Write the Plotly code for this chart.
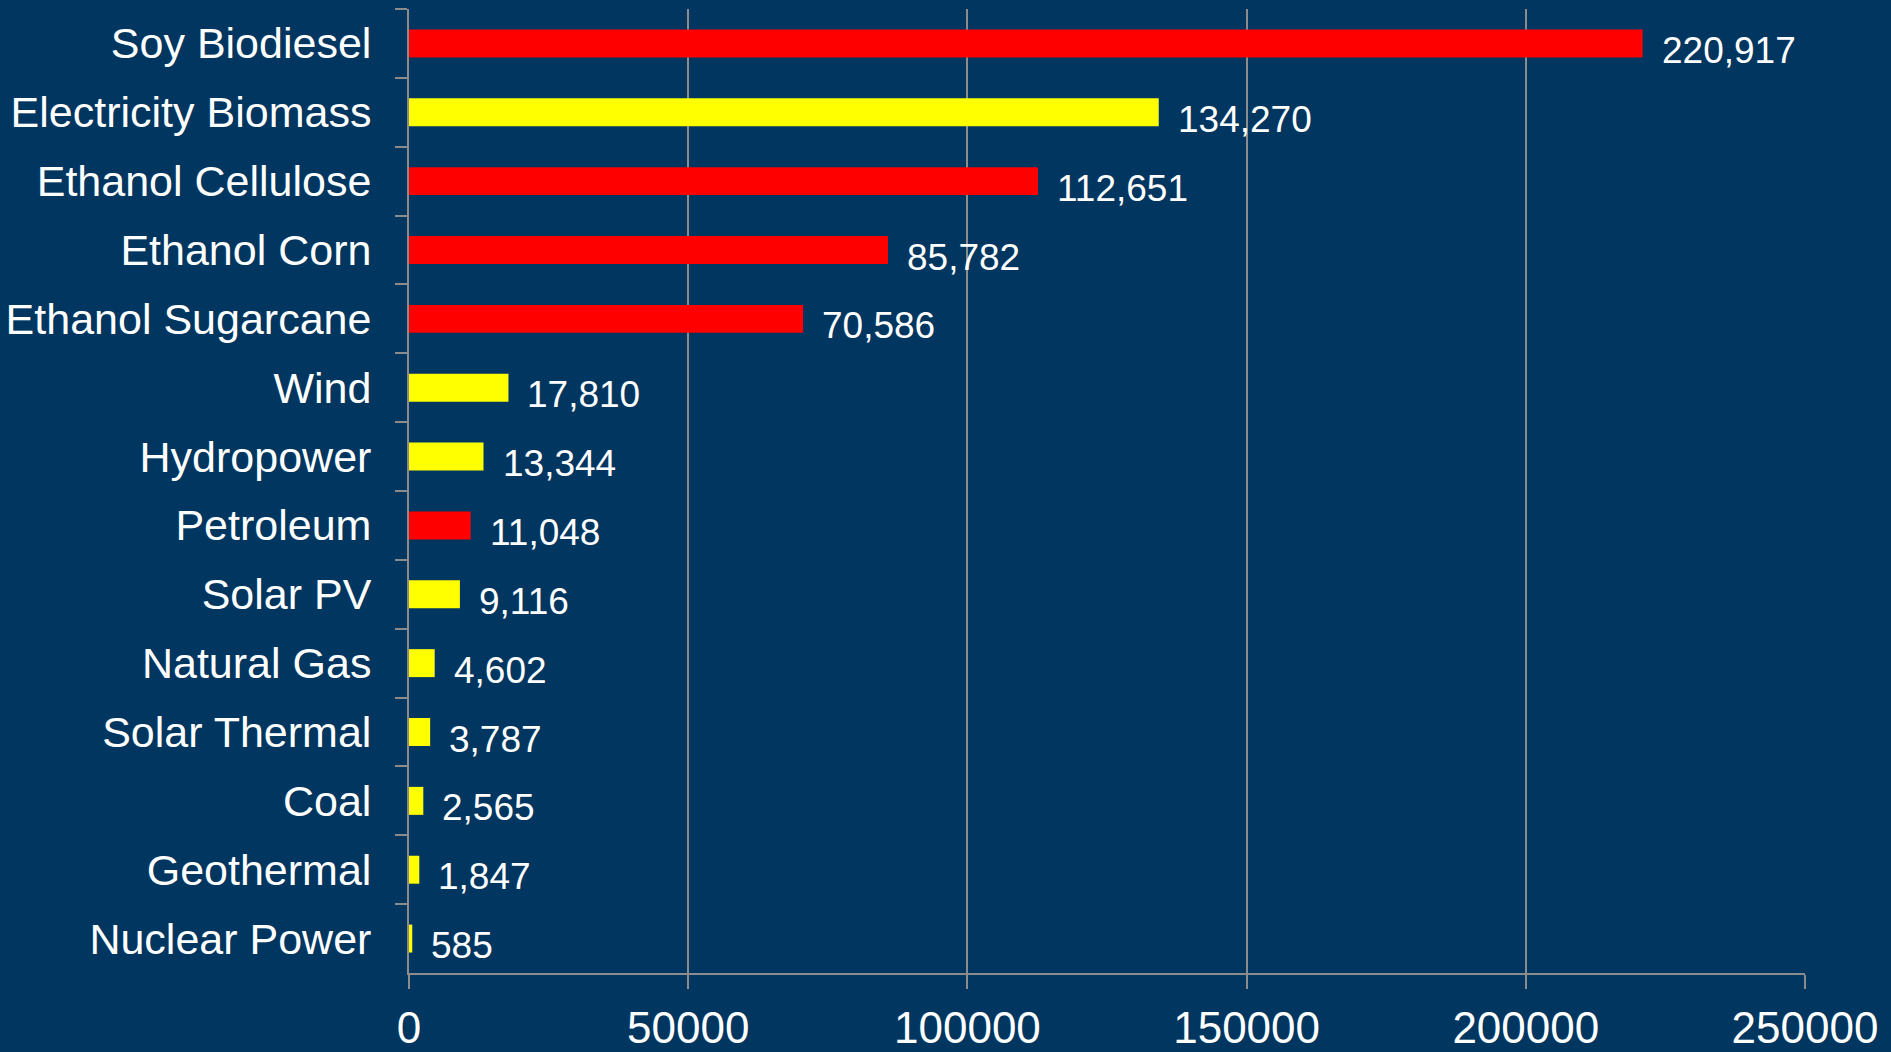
import plotly.graph_objects as go

categories = ["Soy Biodiesel", "Electricity Biomass", "Ethanol Cellulose", "Ethanol Corn",
              "Ethanol Sugarcane", "Wind", "Hydropower", "Petroleum", "Solar PV",
              "Natural Gas", "Solar Thermal", "Coal", "Geothermal", "Nuclear Power"]
values = [220917, 134270, 112651, 85782, 70586, 17810, 13344, 11048, 9116,
          4602, 3787, 2565, 1847, 585]
groups = ["fuel", "electricity", "fuel", "fuel", "fuel", "electricity", "electricity",
          "fuel", "electricity", "electricity", "electricity", "electricity",
          "electricity", "electricity"]
x_ticks = [0, 50000, 100000, 150000, 200000, 250000]

group_colors = {"fuel": "#FF0000", "electricity": "#FFFF00"}
bg = "#00365F"
grid = "#8C8C8C"
font_family = "Liberation Sans, Arial, sans-serif"

fig = go.Figure()
fig.add_trace(go.Bar(
    y=categories, x=values, orientation="h",
    marker=dict(color=[group_colors[g] for g in groups], line=dict(width=0)),
    hoverinfo="x+y", showlegend=False,
))

for c, v in zip(categories, values):
    fig.add_annotation(x=v, y=c, text=f"{v:,}", showarrow=False, xanchor="left",
                       yanchor="middle", xshift=17, yshift=-7,
                       font=dict(family=font_family, size=37, color="white"))

fig.update_layout(
    width=1891, height=1052,
    margin=dict(l=409, r=86, t=9, b=79, autoexpand=False),
    paper_bgcolor=bg, plot_bgcolor=bg,
    bargap=0.594,
    font=dict(family=font_family, color="white"),
)
fig.update_xaxes(
    range=[0, 250000], tickvals=x_ticks, tickformat="d",
    showgrid=True, gridcolor=grid, gridwidth=2,
    showline=True, linecolor=grid, linewidth=2,
    ticks="outside", ticklen=14, tickcolor=grid, tickwidth=2,
    tickfont=dict(family=font_family, size=44, color="white"),
    zeroline=False, automargin=False, ticklabelstandoff=1,
)
fig.update_yaxes(
    categoryorder="array", categoryarray=categories, autorange="reversed",
    showline=True, linecolor=grid, linewidth=2,
    ticks="outside", ticklen=12, tickcolor=grid, tickwidth=2, tickson="boundaries",
    showgrid=False, automargin=False,
    tickfont=dict(family=font_family, size=43, color="white"),
    ticklabelstandoff=27,
)

fig.write_html("out.html")
